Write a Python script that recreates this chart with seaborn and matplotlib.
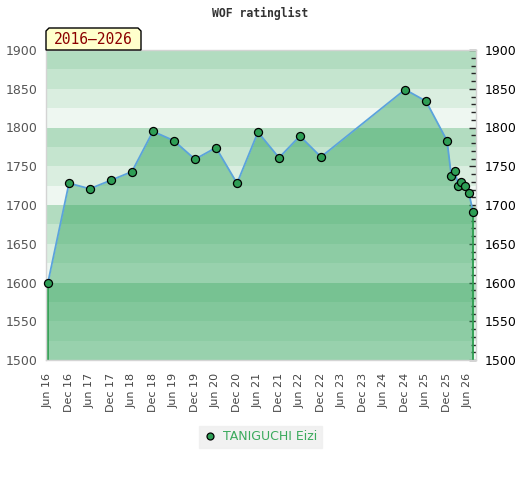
import pandas as pd
import numpy as np
import seaborn as sns
import matplotlib.pyplot as plt
from matplotlib.lines import Line2D
from matplotlib.patches import Polygon

# === data ===
dates = pd.to_datetime([
    "2016-06-01", "2016-12-01", "2017-06-01", "2017-12-01", "2018-06-01",
    "2018-12-01", "2019-06-01", "2019-12-01", "2020-06-01", "2020-12-01",
    "2021-06-01", "2021-12-01", "2022-06-01", "2022-12-01", "2024-12-01",
    "2025-06-01", "2025-12-01", "2026-01-07", "2026-02-08", "2026-03-08",
    "2026-04-05", "2026-05-08", "2026-06-10", "2026-07-15",
])
ratings = [1600, 1728, 1721, 1732, 1743, 1795, 1783, 1759, 1774, 1728,
           1794, 1761, 1789, 1762, 1849, 1834, 1783, 1738, 1744, 1725,
           1730, 1725, 1715, 1691]
player = "TANIGUCHI Eizi"
title = "WOF ratinglist"
period = "2016\u20132026"
tick_dates = pd.date_range("2016-06-01", "2026-06-01", freq="6MS")
tick_labels = [d.strftime("%b %y") for d in tick_dates]

df = pd.DataFrame({"date": dates, "rating": ratings})

# === figure ===
sns.set_style("white")
plt.rcParams["font.family"] = ["DejaVu Sans"]
fig = plt.figure(figsize=(5.2, 4.8), dpi=100)
W, H = 520, 480


def fxy(x, y):
    return x / W, 1 - y / H


ax = fig.add_axes([46 / W, 1 - 360 / H, 430 / W, 310 / H])

# striped background, repeating every 100 points
band_colors = ["#eef7f1", "#daeee0", "#c5e5cf", "#b2dcc0"]
for i, lo in enumerate(range(1500, 1900, 25)):
    ax.axhspan(lo, lo + 25, color=band_colors[i % 4], lw=0, zorder=0)

ax.fill_between(df["date"], df["rating"], 1500, color="#31a45c", alpha=0.45, lw=0, zorder=1)
ax.vlines([df["date"].iloc[0], df["date"].iloc[-1]], 1500,
          [df["rating"].iloc[0], df["rating"].iloc[-1]], color="#2e9e50", lw=1.3, zorder=2)
sns.lineplot(data=df, x="date", y="rating", ax=ax, color="#5ba3dc", lw=1.3,
             marker="o", markersize=5.8, markerfacecolor="#2e9e55",
             markeredgecolor="black", markeredgewidth=0.9, zorder=3, clip_on=False)

ax.set_xlim(pd.Timestamp("2016-05-15"), pd.Timestamp("2026-08-10"))
ax.set_ylim(1500, 1900)
ax.set_xticks(tick_dates)
ax.set_xticklabels(tick_labels, rotation=90, fontsize=8, color="#444444")
ax.set_yticks(range(1500, 1901, 50))
ax.set_yticks(range(1500, 1900, 10), minor=True)
ax.set_xlabel("")
ax.set_ylabel("")
ax.tick_params(axis="x", length=0, pad=9)
ax.tick_params(axis="y", which="major", left=False, right=True, labelleft=True,
               labelright=True, direction="in", length=5, width=1, pad=6, labelsize=9)
ax.tick_params(axis="y", which="minor", left=False, right=True, direction="in",
               length=3.5, width=1)
for t in ax.yaxis.get_major_ticks():
    t.label1.set_color("#555555")
    t.label2.set_color("black")
for s in ax.spines.values():
    s.set_color("#d4d4d4")
    s.set_linewidth(1)

# title
fig.text(*fxy(260, 13), title, ha="center", va="center", fontsize=8.3,
         family="DejaVu Sans Mono", fontweight="bold", color="#333333")

# period tag with chamfered top corners
pts = [(46, 50), (46, 31), (49, 28), (138, 28), (141, 31), (141, 50)]
fig.patches.append(Polygon([fxy(x, y) for x, y in pts], closed=True,
                           transform=fig.transFigure, facecolor="#ffffcc",
                           edgecolor="black", lw=1, zorder=5))
fig.text(*fxy(93.5, 40), period, ha="center", va="center", fontsize=10.5,
         family="DejaVu Sans Mono", color="#8b0000", zorder=6)

# legend
handle = Line2D([], [], marker="o", ls="none", markersize=5,
                markerfacecolor="#2e9e55", markeredgecolor="black", markeredgewidth=0.9)
leg = fig.legend([handle], [player], loc="center", bbox_to_anchor=fxy(260, 437),
                 frameon=True, fancybox=False, fontsize=9, handletextpad=0.4,
                 borderpad=0.35, handlelength=1.2, labelcolor="#3aaa5c")
leg.get_frame().set_facecolor("#eeeeee")
leg.get_frame().set_edgecolor("#eeeeee")

fig.savefig("out.png", dpi=100)
